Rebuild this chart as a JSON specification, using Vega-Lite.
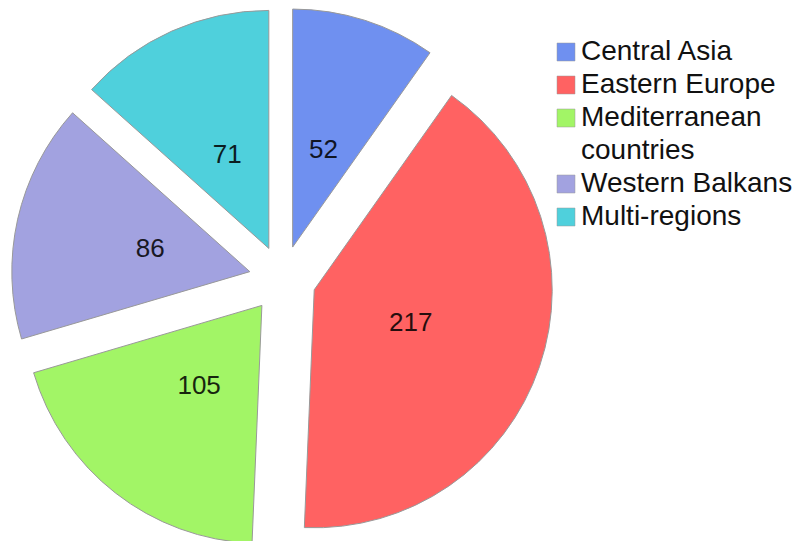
{
  "$schema": "https://vega.github.io/schema/vega-lite/v6.json",
  "autosize": "none",
  "width": 565,
  "height": 520,
  "padding": {"top": 19, "left": 0, "right": 240, "bottom": 2},
  "background": "white",
  "config": {"view": {"stroke": null}},
  "data": {
    "values": [
      {"region": "Central Asia", "value": 52, "rank": 1},
      {"region": "Eastern Europe", "value": 217, "rank": 2},
      {"region": "Mediterranean countries", "value": 105, "rank": 3},
      {"region": "Western Balkans", "value": 86, "rank": 4},
      {"region": "Multi-regions", "value": 71, "rank": 5}
    ]
  },
  "encoding": {
    "theta": {"field": "value", "type": "quantitative", "stack": true},
    "order": {"field": "rank", "type": "quantitative"},
    "color": {
      "field": "region",
      "type": "nominal",
      "scale": {
        "domain": ["Central Asia", "Eastern Europe", "Mediterranean countries", "Western Balkans", "Multi-regions"],
        "range": ["#6f90f0", "#ff6262", "#a2f566", "#a2a2e0", "#4fd0dc"]
      },
      "legend": {
        "orient": "none",
        "legendX": 552,
        "legendY": 19,
        "title": null,
        "symbolType": "square",
        "symbolSize": 324,
        "symbolStrokeColor": "#999999",
        "symbolStrokeWidth": 0.5,
        "labelFont": "Liberation Sans",
        "labelFontSize": 28,
        "labelColor": "#111111",
        "labelOffset": 1,
        "labelLimit": 0,
        "rowPadding": 5,
        "labelExpr": "datum.label == 'Mediterranean countries' ? ['Mediterranean', 'countries'] : datum.label",
        "encode": {"labels": {"update": {"lineHeight": {"value": 33}}}}
      }
    }
  },
  "layer": [
    {
      "mark": {
        "type": "arc",
        "outerRadius": 238,
        "stroke": "#999999",
        "strokeWidth": 1,
        "xOffset": {"expr": "33.5*sin((scale('theta', datum.value_start) + scale('theta', datum.value_end))/2)"},
        "yOffset": {"expr": "-33.5*cos((scale('theta', datum.value_start) + scale('theta', datum.value_end))/2)"}
      }
    },
    {
      "mark": {
        "type": "text",
        "radius": 135.5,
        "font": "Liberation Sans",
        "fontSize": 26,
        "opacity": 0.85
      },
      "encoding": {
        "text": {"field": "value"},
        "color": {"value": "#000000"}
      }
    }
  ]
}
